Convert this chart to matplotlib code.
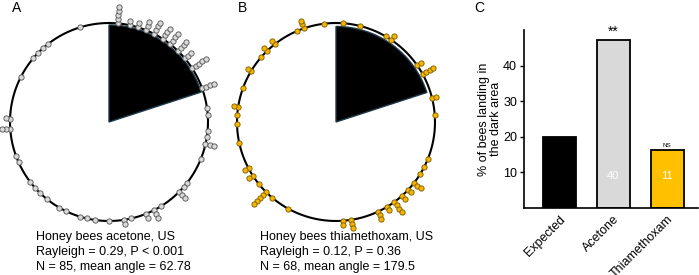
import numpy as np
import matplotlib
matplotlib.use('Agg')
import matplotlib.pyplot as plt

plt.rcParams['font.family'] = ['Liberation Sans', 'DejaVu Sans']

# landing angles (deg, clockwise from north) and how many bees per bin
acetone_angles = [5, 12, 17, 22, 27, 33, 38, 44, 50, 57, 70,
                  82, 86, 95, 99, 103, 112, 128, 131, 135, 148, 153, 158, 167, 171,
                  180, 188, 193, 197, 206, 210, 219, 224, 228, 233, 246, 250,
                  266, 272, 297, 310, 314, 318, 322, 343]
acetone_counts = [5, 2, 2, 3, 4, 4, 4, 4, 3, 5, 4,
                  1, 1, 1, 1, 3, 1, 1, 1, 3, 1, 3, 2, 1, 2,
                  1, 1, 1, 1, 1, 1, 1, 1, 1, 1, 1, 1,
                  3, 2, 1, 1, 1, 1, 1, 1]

thiam_angles = [4, 14, 30, 34, 55, 61, 76, 86, 112, 117,
                122, 128, 133, 138, 144, 149, 155, 171, 176, 209,
                220, 225, 231, 237, 242, 258, 269, 274, 279, 290,
                301, 311, 316, 322, 337, 341, 353]
thiam_counts = [1, 1, 1, 2, 2, 4, 2, 1, 1, 1,
                1, 3, 2, 2, 4, 2, 3, 3, 2, 1,
                1, 5, 1, 2, 2, 1, 1, 1, 2, 1,
                2, 1, 2, 2, 1, 3, 1]

dark_sector = 72  # degrees

captions = [["Honey bees acetone, US", "Rayleigh = 0.29, P < 0.001", "N = 85, mean angle = 62.78"],
            ["Honey bees thiamethoxam, US", "Rayleigh = 0.12, P = 0.36", "N = 68, mean angle = 179.5"]]

groups = ["Expected", "Acetone", "Thiamethoxam"]
pct = [20.0, 47.1, 16.2]
n_dark = ["", "40", "11"]
signif = ["", "**", "NS"]
bar_colors = ["#000000", "#d9d9d9", "#ffc000"]

W, H = 699, 275
fig = plt.figure(figsize=(W / 100, H / 100), dpi=100)

R_PX = 99
RMAX = 1.4
STEP = 0.042


def circ_panel(cx, cy, angles, counts, fc, ec, sector_r):
    half = R_PX * RMAX
    ax = fig.add_axes([(cx - half) / W, (H - cy - half) / H, 2 * half / W, 2 * half / H],
                      projection='polar')
    ax.set_theta_zero_location('N')
    ax.set_theta_direction(-1)
    ax.set_ylim(0, RMAX)
    ax.axis('off')
    ax.bar(0, sector_r, width=np.deg2rad(dark_sector), align='edge',
           color='black', edgecolor='#1d3a4a', linewidth=1.0, zorder=1)
    t = np.linspace(0, 2 * np.pi, 400)
    ax.plot(t, np.ones_like(t), color='black', lw=1.5, zorder=2)
    th, rr = [], []
    for a, c in zip(angles, counts):
        for k in range(c):
            th.append(np.deg2rad(a))
            rr.append(1 + k * STEP)
    ax.plot(th, rr, 'o', ms=3.8, mfc=fc, mec=ec, mew=0.6, clip_on=False, zorder=3)
    return ax


circ_panel(109, 122, acetone_angles, acetone_counts, '#d9d9d9', '#505050', 0.98)
circ_panel(336, 122, thiam_angles, thiam_counts, '#f5b400', '#7a5a00', 0.965)

for lab, x in zip(["A", "B", "C"], [12, 238, 474]):
    fig.text(x / W, 1 - 8 / H, lab, fontsize=10, ha='left', va='center')

for lines, x in zip(captions, [36, 260]):
    for i, s in enumerate(lines):
        fig.text(x / W, 1 - (237 + 15 * i) / H, s, fontsize=9, ha='left', va='center')

# bar panel
axc = fig.add_axes([524 / W, (H - 207.7) / H, 174 / W, 177.7 / H])
xpos = np.arange(len(groups))
axc.bar(xpos, pct, width=0.61, color=bar_colors, edgecolor='black', linewidth=1.3)
axc.set_xlim(-0.65, 2.57)
axc.set_ylim(0, 50)
axc.set_yticks([10, 20, 30, 40])
axc.set_xticks(xpos)
axc.set_xticklabels(groups, rotation=45, ha='right', rotation_mode='anchor', fontsize=9)
axc.tick_params(axis='x', length=0, pad=4)
axc.tick_params(axis='y', length=3, width=1, labelsize=9, pad=2)
axc.spines['top'].set_visible(False)
axc.spines['right'].set_visible(False)
axc.spines['left'].set_linewidth(1.2)
axc.spines['bottom'].set_linewidth(1.2)
axc.set_ylabel("% of bees landing in\nthe dark area", fontsize=9, labelpad=1, linespacing=1.0)
for x, n in zip(xpos, n_dark):
    if n:
        axc.text(x, 9, n, color='white', ha='center', va='center', fontsize=8)
for x, s, v in zip(xpos, signif, pct):
    if s == "**":
        axc.text(x, v + 0.3, s, ha='center', va='bottom', fontsize=10)
    elif s:
        axc.text(x, v + 0.5, s, ha='center', va='bottom', fontsize=4.5)

fig.savefig('out.png', dpi=100)
